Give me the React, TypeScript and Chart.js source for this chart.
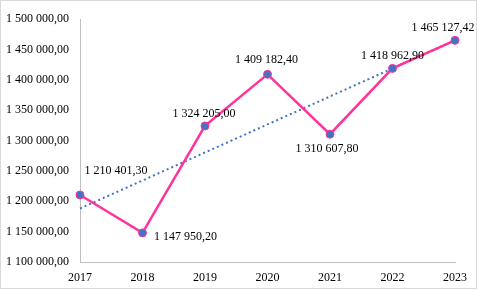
import React, { useEffect, useRef } from "react";
import { Chart, registerables } from "chart.js";

Chart.register(...registerables);

const years = ["2017", "2018", "2019", "2020", "2021", "2022", "2023"];
const values = [1210401.3, 1147950.2, 1324205.0, 1409182.4, 1310607.8, 1418962.9, 1465127.42];
const yMin = 1100000;
const yMax = 1500000;
const yStep = 50000;
// label offsets (dx, dy) relative to each point
const labelDx = [36, 43, -1, -1, -3, 0, -12];
const labelDy = [-24, 4, -12, -14, 15, -13, -13];

const FONT = "'Liberation Serif', 'Times New Roman', serif";
const FONT_SIZE = 12;

function fmt(v: number, decimals = 2): string {
  const fixed = v.toFixed(decimals);
  const [intPart, dec] = fixed.split(".");
  const grouped = intPart.replace(/\B(?=(\d{3})+(?!\d))/g, " ");
  return dec ? grouped + "," + dec : grouped;
}

function trend(vals: number[]): number[] {
  const n = vals.length;
  const mx = (n - 1) / 2;
  const my = vals.reduce((a, b) => a + b, 0) / n;
  let sxy = 0;
  let sxx = 0;
  vals.forEach((v, i) => {
    sxy += (i - mx) * (v - my);
    sxx += (i - mx) * (i - mx);
  });
  const slope = sxy / sxx;
  return vals.map((_, i) => my + slope * (i - mx));
}

const labelPlugin = {
  id: "valueLabels",
  afterDatasetsDraw(chart: any) {
    const meta = chart.getDatasetMeta(0);
    const ctx = chart.ctx;
    ctx.save();
    ctx.font = `${FONT_SIZE}px ${FONT}`;
    ctx.fillStyle = "#000000";
    ctx.textAlign = "center";
    ctx.textBaseline = "middle";
    meta.data.forEach((pt: any, i: number) => {
      ctx.fillText(fmt(values[i]), pt.x + labelDx[i], pt.y + labelDy[i]);
    });
    ctx.restore();
  },
};

export default function App() {
  const ref = useRef<HTMLCanvasElement | null>(null);
  useEffect(() => {
    document.body.style.margin = "0";
    const canvas = ref.current!;
    const chart = new Chart(canvas, {
      type: "line",
      data: {
        labels: years,
        datasets: [
          {
            data: values,
            borderColor: "#FF3399",
            borderWidth: 2.5,
            backgroundColor: "#4472C4",
            pointBackgroundColor: "#4472C4",
            pointBorderColor: "#FF3399",
            pointBorderWidth: 1,
            pointRadius: 4,
            tension: 0,
            order: 0,
          },
          {
            data: trend(values),
            borderColor: "#4472C4",
            borderWidth: 2,
            borderDash: [2, 3],
            pointRadius: 0,
            fill: false,
            order: 1,
          },
        ],
      },
      options: {
        animation: false,
        responsive: false,
        devicePixelRatio: 1,
        layout: { padding: { left: 0, right: 18, top: 13.5, bottom: 0 } },
        plugins: { legend: { display: false }, tooltip: { enabled: false } },
        scales: {
          x: {
            offset: false,
            grid: { display: false, drawTicks: false },
            border: { display: true, color: "#BFBFBF", width: 1 },
            ticks: {
              color: "#000000",
              font: { family: FONT, size: FONT_SIZE },
              padding: 9,
              maxRotation: 0,
              autoSkip: false,
            },
            afterFit(scale: any) {
              scale.height = 26;
            },
          },
          y: {
            min: yMin,
            max: yMax,
            grid: { display: false, drawTicks: false },
            border: { display: true, color: "#BFBFBF", width: 1 },
            ticks: {
              stepSize: yStep,
              color: "#000000",
              font: { family: FONT, size: FONT_SIZE },
              padding: 11,
              callback: (v: any) => fmt(Number(v)),
            },
            afterFit(scale: any) {
              scale.width = 79;
            },
          },
        },
      },
      plugins: [labelPlugin],
    });
    return () => chart.destroy();
  }, []);
  return (
    <div
      style={{
        position: "relative",
        width: 477,
        height: 289,
        boxSizing: "border-box",
        border: "1px solid #D9D9D9",
        background: "#FFFFFF",
      }}
    >
      <canvas ref={ref} width={475} height={287} style={{ display: "block" }} />
    </div>
  );
}
